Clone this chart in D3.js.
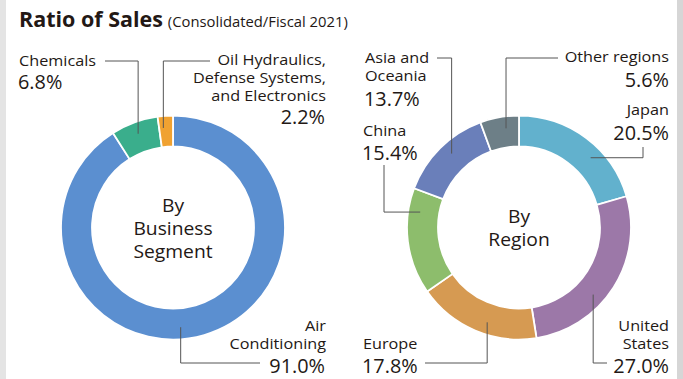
<!DOCTYPE html>
<html><head><meta charset="utf-8">
<script src="https://cdn.jsdelivr.net/npm/d3@7"></script>
<style>
html,body{margin:0;padding:0;background:#fff;}
svg text{font-family:"Open Sans","Noto Sans",sans-serif;fill:#231815;}
</style></head>
<body>
<svg id="c" width="683" height="379"></svg>
<script>
// ---- Data ----
const segmentNames = ["Air Conditioning", "Chemicals", "Oil Hydraulics, Defense Systems, and Electronics"];
const segmentValues = [91.0, 6.8, 2.2];
const segmentColors = ["#5b8fd0", "#3aae8c", "#f0a231"];

const regionNames = ["Japan", "United States", "Europe", "China", "Asia and Oceania", "Other regions"];
const regionValues = [20.5, 27.0, 17.8, 15.4, 13.7, 5.6];
const regionColors = ["#62b1cd", "#9c78a8", "#d69a52", "#8dbd6c", "#6a7fba", "#6d7f87"];

const svg = d3.select("#c");
svg.append("rect").attr("x",0).attr("y",0).attr("width",683).attr("height",379).attr("fill","#fff");
svg.append("rect").attr("x",0).attr("y",0).attr("width",6).attr("height",379).attr("fill","#e4e4e4");
svg.append("rect").attr("x",677).attr("y",0).attr("width",6).attr("height",379).attr("fill","#d6d6d6");

// Title
const title = svg.append("text").attr("x",19).attr("y",27);
title.append("tspan").text("Ratio of Sales").attr("font-weight","bold").attr("font-size",21.5);
title.append("tspan").text(" (Consolidated/Fiscal 2021)").attr("font-size",14.8).attr("dx",1);

function addText(x, y, txt, size, anchor, sx) {
  return svg.append("text")
    .attr("transform", `translate(${x},${y}) scale(${sx},1)`)
    .attr("text-anchor", anchor).attr("font-size", size).text(txt);
}

const outerR = 112, innerR = 81, anchorR = 100;

function drawDonut(cx, cy, names, values, colors, centerLines, labels) {
  const pie = d3.pie().sort(null).value(d => d)(values);
  const arc = d3.arc().innerRadius(innerR).outerRadius(outerR);
  const g = svg.append("g").attr("transform", `translate(${cx},${cy})`);
  g.selectAll("path").data(pie).join("path")
    .attr("d", arc)
    .attr("fill", (d,i) => colors[i])
    .attr("stroke", "#fff").attr("stroke-width", 1.8);
  // center text
  const n = centerLines.length;
  centerLines.forEach((t,i) => {
    addText(cx, cy + (i - (n-1)/2) * 23 + 7, t, 18, "middle", 1.07);
  });
  // labels + leader lines
  labels.forEach(L => {
    const p = pie[L.idx];
    const a = p.startAngle + (p.endAngle - p.startAngle) * L.t;
    const ax = cx + anchorR * Math.sin(a), ay = cy - anchorR * Math.cos(a);
    let pts;
    if (L.mode === "v") pts = [[ax, ay], [ax, L.ly], [L.lx, L.ly]];
    else pts = [[ax, ay], [L.lx, ay], [L.lx, L.ly]];
    svg.append("path").attr("d", d3.line()(pts)).attr("fill","none")
      .attr("stroke","#555").attr("stroke-width",1);
    L.lines.forEach(([txt, x, y, big]) => {
      if (big) addText(x, y, txt, 19.3, L.anchor, 1.03);
      else addText(x, y, txt, 14.5, L.anchor, 1.12);
    });
  });
}

drawDonut(173, 227.5, segmentNames, segmentValues, segmentColors, ["By","Business","Segment"], [
  {idx:1, t:0.49, mode:"v", lx:105, ly:61, anchor:"start",
   lines:[["Chemicals",19,66,false],[segmentValues[1].toFixed(1)+"%",18,89,true]]},
  {idx:2, t:0.3, mode:"v", lx:210, ly:61, anchor:"end",
   lines:[["Oil Hydraulics,",326,65,false],["Defense Systems,",326,83,false],["and Electronics",326,101,false],[segmentValues[2].toFixed(1)+"%",325,124,true]]},
  {idx:0, t:0.536, mode:"v", lx:260, ly:363, anchor:"end",
   lines:[["Air",326,331,false],["Conditioning",326,349,false],[segmentValues[0].toFixed(1)+"%",325,373,true]]}
]);

drawDonut(519, 227.5, regionNames, regionValues, regionColors, ["By","Region"], [
  {idx:0, t:0.62, mode:"h", lx:643, ly:147, anchor:"end",
   lines:[["Japan",669,115,false],[regionValues[0].toFixed(1)+"%",669,140,true]]},
  {idx:1, t:0.6, mode:"v", lx:607, ly:363, anchor:"end",
   lines:[["United",669,331,false],["States",669,349,false],[regionValues[1].toFixed(1)+"%",669,373,true]]},
  {idx:2, t:0.43, mode:"v", lx:425, ly:363, anchor:"start",
   lines:[["Europe",363,349,false],[regionValues[2].toFixed(1)+"%",362,373,true]]},
  {idx:3, t:0.79, mode:"h", lx:384, ly:165, anchor:"start",
   lines:[["China",363,136,false],[regionValues[3].toFixed(1)+"%",362,160,true]]},
  {idx:4, t:0.55, mode:"v", lx:437, ly:58, anchor:"start",
   lines:[["Asia and",365,63,false],["Oceania",365,81,false],[regionValues[4].toFixed(1)+"%",364,106,true]]},
  {idx:5, t:0.63, mode:"v", lx:558, ly:58, anchor:"end",
   lines:[["Other regions",669,62,false],[regionValues[5].toFixed(1)+"%",669,87,true]]}
]);
</script>
</body></html>
